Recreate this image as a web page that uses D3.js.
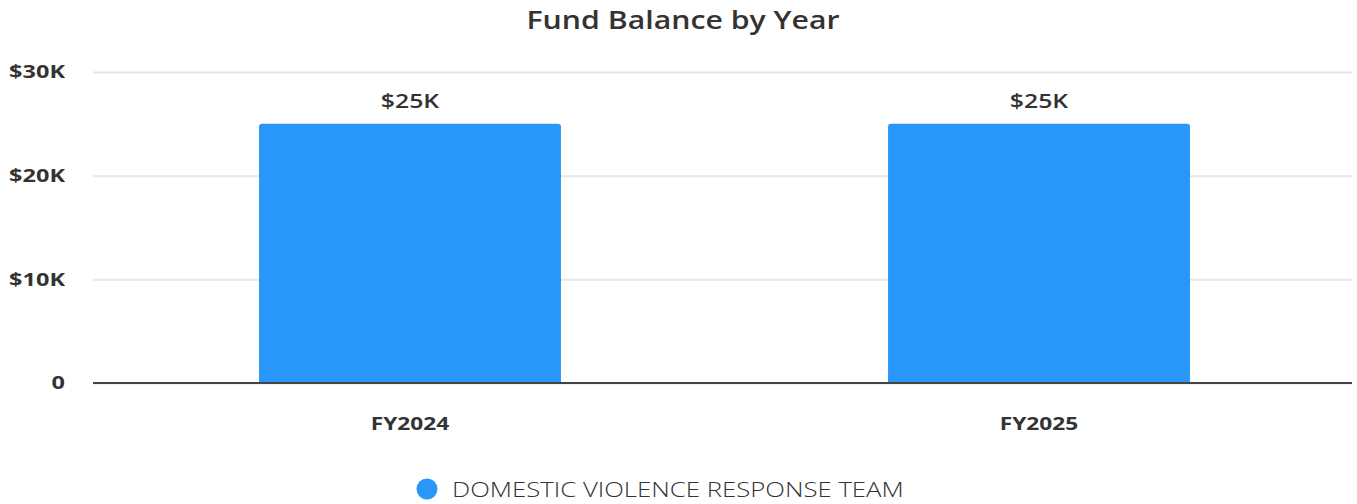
<!DOCTYPE html>
<html><head><meta charset="utf-8">
<script src="https://cdn.jsdelivr.net/npm/d3@7"></script>
<style>body{margin:0;background:#fff;} text{font-family:"Open Sans","Noto Sans",sans-serif;}</style>
</head><body>
<svg id="c" width="1357" height="504"></svg>
<script>
const categories = ["FY2024", "FY2025"];
const values = [25000, 25000];
const valueLabels = ["$25K", "$25K"];
const yTicks = [0, 10000, 20000, 30000];
const yTickLabels = ["0", "$10K", "$20K", "$30K"];
const seriesName = "DOMESTIC VIOLENCE RESPONSE TEAM";
const title = "Fund Balance by Year";

const svg = d3.select("#c");
const color = "#2997F9";
const x = d3.scaleBand().domain(categories).range([95.5, 1353.5]).paddingInner(0.52).paddingOuter(0.26);
const y = d3.scaleLinear().domain([0, 30000]).range([383, 72]);

function widen(sel, f) {
  sel.each(function() {
    const w = this.getComputedTextLength();
    d3.select(this).attr("textLength", w * f).attr("lengthAdjust", "spacingAndGlyphs");
  });
}

const t = svg.append("text").attr("x", 683).attr("y", 29).attr("text-anchor", "middle")
  .attr("font-size", 25).attr("font-weight", 600).attr("fill", "#333").text(title);
widen(t, 1.21);

const yAxis = svg.append("g").attr("transform", "translate(93,0)")
  .call(d3.axisLeft(y).tickValues(yTicks).tickSize(-1259).tickFormat((d,i)=>yTickLabels[i]));
yAxis.select(".domain").remove();
yAxis.selectAll(".tick line").attr("stroke", "#e6e6e6").attr("stroke-width", 2);
yAxis.selectAll(".tick text").attr("x", -28).attr("font-size", 18.5).attr("font-weight", 700).attr("fill", "#333")
  .attr("font-family", "'Open Sans',sans-serif");
widen(yAxis.selectAll(".tick text"), 1.27);

const bars = svg.append("g");
categories.forEach((c, i) => {
  const bx = x(c), bw = x.bandwidth(), by = y(values[i]), bh = y(0) - y(values[i]), r = 3;
  bars.append("path").attr("fill", color)
    .attr("d", `M${bx},${by+bh} V${by+r} Q${bx},${by} ${bx+r},${by} H${bx+bw-r} Q${bx+bw},${by} ${bx+bw},${by+r} V${by+bh} Z`);
  const vt = svg.append("text").attr("x", bx + bw/2).attr("y", by - 16).attr("text-anchor", "middle")
    .attr("font-size", 20).attr("font-weight", 600).attr("fill", "#333").text(valueLabels[i]);
  widen(vt, 1.24);
});

svg.append("line").attr("x1", 93).attr("x2", 1352).attr("y1", y(0)).attr("y2", y(0))
  .attr("stroke", "#444").attr("stroke-width", 2);

const xAxis = svg.append("g").attr("transform", `translate(0,${y(0)})`)
  .call(d3.axisBottom(x).tickSize(0).tickPadding(34));
xAxis.select(".domain").remove();
xAxis.selectAll(".tick text").attr("font-size", 18).attr("font-weight", 700).attr("fill", "#333")
  .attr("font-family", "'Open Sans',sans-serif");
widen(xAxis.selectAll(".tick text"), 1.26);

const lg = svg.append("g");
lg.append("circle").attr("cx", 427).attr("cy", 489).attr("r", 10.5).attr("fill", color);
const lt = lg.append("text").attr("x", 452).attr("y", 497).attr("font-size", 21).attr("font-weight", 300)
  .attr("fill", "#333").text(seriesName);
widen(lt, 1.225);
</script>
</body></html>
